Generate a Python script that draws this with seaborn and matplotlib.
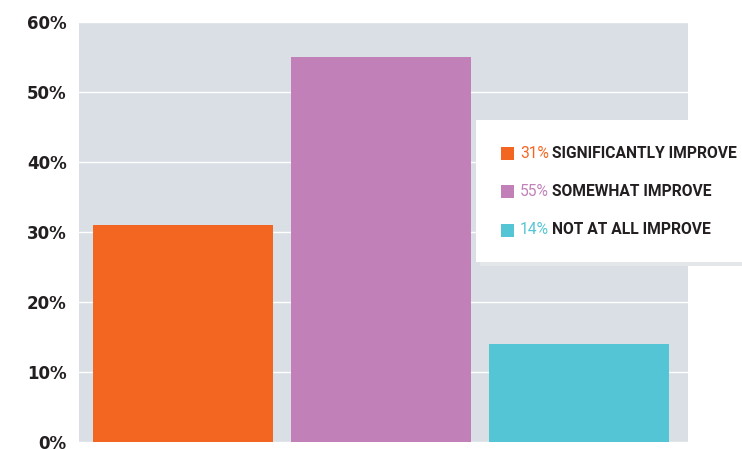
import matplotlib
matplotlib.use("Agg")
import matplotlib.pyplot as plt
import seaborn as sns
import pandas as pd
from matplotlib.patches import Rectangle
from matplotlib.ticker import FuncFormatter

# --- data ---
categories = ["SIGNIFICANTLY IMPROVE", "SOMEWHAT IMPROVE", "NOT AT ALL IMPROVE"]
values = [31, 55, 14]
colors = ["#F36621", "#C181B8", "#54C5D5"]
yticks = [0, 10, 20, 30, 40, 50, 60]

W, H = 742, 449
sns.set_theme(style="white")
plt.rcParams["font.family"] = ["DejaVu Sans"]

fig = plt.figure(figsize=(W / 100, H / 100), dpi=100)
fig.patch.set_facecolor("white")
ax = fig.add_axes([79 / W, 1 - 442 / H, (688 - 79) / W, (442 - 22) / H])
ax.set_facecolor("#D9DFE5")

df = pd.DataFrame({"cat": categories, "val": values})
sns.barplot(data=df, x="cat", y="val", hue="cat", palette=colors,
            width=0.909, legend=False, saturation=1, linewidth=0,
            ax=ax, zorder=3)

ax.set_xlim(-0.525, 2.55)
ax.set_ylim(0, 60)
ax.set_yticks(yticks)
ax.yaxis.set_major_formatter(FuncFormatter(lambda v, p: f"{v:.0f}%"))
ax.yaxis.grid(True, color="white", linewidth=1.0, zorder=1)
ax.set_axisbelow(True)
ax.set_xticks([])
ax.set_xlabel("")
ax.set_ylabel("")
for s in ax.spines.values():
    s.set_visible(False)
ax.tick_params(axis="y", length=0, pad=9, labelsize=12, labelcolor="#231F20")
for t in ax.get_yticklabels():
    t.set_fontweight("bold")

# --- legend box (white panel overlapping the plot) ---
def px(x, y):
    return x / W, 1 - y / H

fig.add_artist(Rectangle(px(480, 266), (W - 480) / W, (266 - 124) / H,
                         transform=fig.transFigure, facecolor="#E4E7EA",
                         edgecolor="none", zorder=4))
fig.add_artist(Rectangle(px(476, 262), (W - 476) / W, (262 - 120) / H,
                         transform=fig.transFigure, facecolor="white",
                         edgecolor="none", zorder=5))

legend_font = ["Roboto", "DejaVu Sans"]
row_y = [153, 191, 230]
fig.canvas.draw()
renderer = fig.canvas.get_renderer()

# fit the widest row so it ends near x=738 px
probe = fig.text(0, 0, f"{values[0]}% {categories[0]}", fontsize=12,
                 family=legend_font, fontweight="bold")
w12 = probe.get_window_extent(renderer).width
probe.remove()
fs = 12 * (738 - 520) / w12

for cat, v, c, yy in zip(categories, values, colors, row_y):
    fig.add_artist(Rectangle(px(501, yy + 7), 13 / W, 13 / H,
                             transform=fig.transFigure, facecolor=c,
                             edgecolor="none", zorder=6))
    x0, y0 = px(520, yy)
    t = fig.text(x0, y0, f"{v}%", color=c, fontsize=fs,
                 family=legend_font, va="center", ha="left", zorder=6)
    bb = t.get_window_extent(renderer)
    fig.text((bb.x1 + 3) / W, y0, cat, color="#231F20", fontsize=fs,
             fontweight="bold", family=legend_font, va="center", ha="left",
             zorder=6)

fig.savefig("out.png", dpi=100)
